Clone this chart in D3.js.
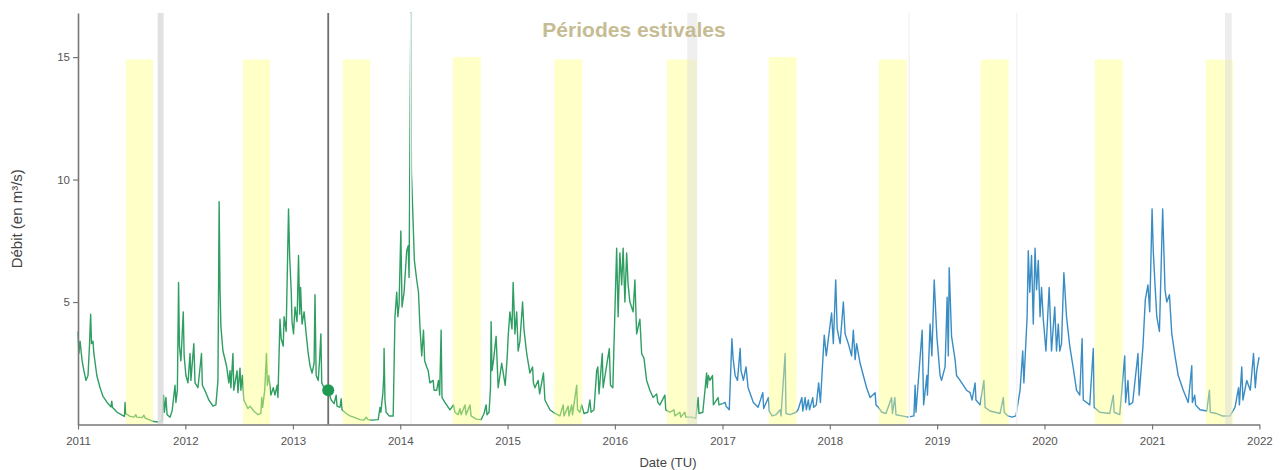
<!DOCTYPE html>
<html>
<head>
<meta charset="utf-8">
<script src="https://cdn.jsdelivr.net/npm/d3@7"></script>
<style>
  html, body { margin: 0; padding: 0; background: #fff; }
  svg { display: block; font-family: "Liberation Sans", Arial, sans-serif; }
</style>
</head>
<body>
<svg id="chart" width="1280" height="470"></svg>
<script>
// ---- Data (daily discharge, m3/s), points as [month-day, value] per year ----
const flow2011 = [["01-01",3.8],["01-04",2.9],["01-08",3.4],["01-15",2.6],["01-21",2.2],["01-28",1.8],["02-04",2.0],["02-09",3.2],["02-13",4.5],["02-16",3.3],["02-21",3.4],["02-24",2.9],["03-06",2.0],["03-17",1.5],["03-27",1.15],["04-10",0.9],["04-23",0.72],["04-26",0.95],["04-28",0.7],["05-14",0.5],["05-31",0.38],["06-08",0.33],["06-10",0.9],["06-12",0.45],["06-27",0.33],["07-10",0.3],["07-17",0.4],["07-20",0.3],["08-07",0.28],["08-13",0.38],["08-17",0.27],["09-03",0.18],["09-16",0.12],["09-30",0.1],["10-14",0.15],["10-19",1.2],["10-22",0.5],["10-27",1.1],["10-31",0.4],["11-10",0.3],["11-17",0.55],["11-27",1.6],["11-30",0.9],["12-05",1.4],["12-09",5.8],["12-12",3.2],["12-17",2.6],["12-25",4.6],["12-28",2.8]];
const flow2012 = [["01-03",2.0],["01-10",1.7],["01-17",2.9],["01-20",1.8],["01-30",3.3],["02-03",1.7],["02-13",1.5],["02-25",2.9],["02-28",1.6],["03-11",1.3],["03-21",1.0],["04-04",0.75],["04-14",0.8],["04-21",1.8],["04-25",9.1],["04-28",5.5],["05-01",4.0],["05-08",3.0],["05-20",2.4],["05-28",1.7],["06-01",2.2],["06-04",1.5],["06-11",2.9],["06-14",1.4],["06-25",2.2],["06-28",1.3],["07-05",2.3],["07-08",1.4],["07-13",2.0],["07-18",1.0],["08-01",0.65],["08-08",0.75],["08-21",0.55],["09-04",0.4],["09-14",0.45],["09-17",1.1],["09-20",0.7],["09-27",1.4],["10-03",2.9],["10-06",1.6],["10-11",2.0],["10-18",1.2],["10-26",1.5],["11-01",1.2],["11-08",1.6],["11-11",1.1],["11-18",4.3],["11-22",3.5],["11-29",3.2],["12-02",4.4],["12-09",3.8],["12-17",8.8],["12-21",6.8],["12-26",5.5],["12-29",4.2]];
const flow2013 = [["01-03",3.7],["01-08",4.8],["01-15",4.2],["01-20",6.9],["01-24",4.5],["01-27",5.6],["02-01",4.1],["02-08",4.6],["02-15",3.7],["02-22",2.9],["02-28",2.4],["03-07",2.1],["03-14",2.5],["03-17",5.3],["03-21",2.0],["03-28",1.8],["04-02",2.7],["04-06",3.7],["04-09",1.7],["04-17",1.5],["05-01",1.4],["05-11",1.0],["05-21",0.85],["05-28",1.2],["05-31",0.75],["06-10",0.7],["06-14",1.05],["06-17",0.6],["07-01",0.45],["07-14",0.35],["07-31",0.28],["08-17",0.2],["08-31",0.18],["09-07",0.3],["09-13",0.2],["09-27",0.18],["10-18",0.2],["10-24",0.7],["10-27",0.5],["11-03",1.3],["11-06",2.0],["11-07",3.1],["11-10",1.0],["11-14",0.5],["11-24",0.35],["12-08",0.35],["12-14",4.4],["12-20",5.4],["12-24",4.4],["12-28",4.9]];
const flow2014 = [["01-03",7.9],["01-07",4.8],["01-14",5.4],["01-23",7.1],["01-28",7.3],["01-31",6.0],["02-06",16.8],["02-08",10.3],["02-12",8.9],["02-18",6.7],["02-26",5.9],["03-04",5.4],["03-09",4.0],["03-15",2.8],["03-21",3.85],["03-25",2.6],["04-01",2.35],["04-06",2.2],["04-12",1.7],["04-23",1.8],["04-26",1.4],["05-05",1.4],["05-11",1.8],["05-15",1.2],["05-20",3.85],["05-23",1.1],["06-02",0.9],["06-19",0.6],["07-01",0.8],["07-06",0.5],["07-17",0.4],["07-23",0.65],["07-27",0.4],["08-09",0.8],["08-13",0.4],["08-26",0.8],["08-30",0.35],["09-16",0.22],["10-03",0.2],["10-13",0.45],["10-20",0.8],["10-23",0.4],["10-30",0.5],["11-04",1.5],["11-06",4.2],["11-09",2.2],["11-14",2.6],["11-23",3.6],["11-30",1.5],["12-12",2.5],["12-24",1.6],["12-31",2.8]];
const flow2015 = [["01-03",3.6],["01-09",4.6],["01-16",3.9],["01-20",5.8],["01-26",3.7],["02-01",4.6],["02-06",3.0],["02-12",3.4],["02-21",5.0],["02-26",3.85],["03-07",2.9],["03-18",2.1],["03-27",2.35],["03-30",1.7],["04-04",1.5],["04-15",1.8],["04-20",1.25],["05-03",2.1],["05-08",1.0],["05-25",0.6],["06-11",0.45],["06-28",0.35],["07-09",0.8],["07-12",0.35],["07-26",0.75],["07-29",0.35],["08-07",0.8],["08-10",0.4],["08-24",1.6],["08-27",0.6],["09-04",0.5],["09-10",0.8],["09-18",0.45],["10-01",0.5],["10-08",1.0],["10-12",0.5],["10-22",0.6],["10-31",2.2],["11-04",2.35],["11-08",1.25],["11-19",2.9],["11-22",1.5],["12-13",3.1],["12-17",1.6],["12-25",1.5]];
const flow2016 = [["01-01",4.6],["01-07",7.2],["01-12",4.4],["01-18",7.0],["01-24",5.7],["01-29",7.2],["02-04",5.0],["02-10",7.0],["02-15",5.7],["02-21",5.0],["03-03",4.6],["03-09",5.9],["03-15",3.7],["03-26",4.3],["04-01",2.9],["04-09",2.7],["04-18",1.8],["04-29",1.4],["05-10",1.1],["05-22",1.25],["05-26",0.9],["06-02",0.8],["06-19",1.2],["06-22",0.6],["07-06",0.5],["07-20",0.6],["07-23",0.35],["08-09",0.5],["08-12",0.3],["08-26",0.5],["08-29",0.3],["09-19",0.3],["10-02",0.25],["10-10",1.1],["10-13",0.45],["10-26",0.5],["11-08",2.1],["11-10",1.5],["11-14",2.0],["11-19",1.8],["11-28",2.0],["12-01",0.8],["12-17",1.1],["12-20",0.8],["12-31",0.85]];
const flow2017 = [["01-01",0.85],["01-10",0.9],["01-13",0.75],["01-24",0.6],["02-02",3.5],["02-06",2.7],["02-13",2.0],["02-21",1.8],["03-02",3.1],["03-05",2.2],["03-13",1.8],["03-22",2.35],["03-29",1.5],["04-16",0.9],["05-02",0.7],["05-18",1.3],["05-21",0.65],["06-06",1.1],["06-09",0.55],["06-19",0.35],["07-02",0.4],["07-16",0.6],["07-19",0.35],["08-02",2.9],["08-05",0.45],["08-19",0.4],["09-08",0.5],["09-15",0.6],["09-28",1.1],["10-01",0.55],["10-09",1.1],["10-13",0.6],["10-20",1.0],["10-24",0.6],["11-04",1.1],["11-07",0.7],["11-16",0.8],["11-24",1.7],["11-30",0.9],["12-13",3.65],["12-20",2.8],["12-28",3.6]];
const flow2018 = [["01-07",4.55],["01-13",3.3],["01-21",5.9],["01-26",3.9],["02-05",3.3],["02-16",5.0],["02-22",3.7],["03-05",3.3],["03-16",2.8],["03-22",3.85],["03-28",2.65],["04-02",3.3],["04-14",2.5],["04-25",2.0],["05-06",1.5],["05-18",1.1],["06-04",1.3],["06-07",0.8],["06-15",0.7],["06-27",0.5],["07-11",0.45],["07-30",1.1],["08-02",0.45],["08-10",1.1],["08-14",0.4],["09-03",0.35],["09-24",0.3],["10-14",0.35],["10-18",1.6],["10-21",0.5],["11-11",3.85],["11-16",0.8],["11-27",2.0],["11-29",1.2],["12-08",4.1],["12-14",2.8],["12-22",5.9],["12-31",3.6]];
const flow2019 = [["01-11",2.0],["01-16",1.8],["01-28",2.35],["02-04",5.2],["02-08",2.8],["02-11",6.4],["02-19",3.6],["03-03",2.65],["03-08",2.0],["03-20",1.8],["04-11",1.4],["04-23",1.3],["04-30",1.0],["05-10",1.7],["05-13",1.0],["05-27",0.8],["06-09",1.8],["06-13",0.7],["06-30",0.55],["07-17",0.5],["08-03",0.45],["08-14",1.1],["08-17",0.5],["08-30",0.35],["09-13",0.3],["09-26",0.35],["10-10",1.4],["10-19",3.0],["10-23",1.7],["11-03",4.4],["11-07",7.1],["11-12",5.4],["11-18",6.9],["11-24",4.1],["11-30",7.2],["12-05",5.5],["12-11",6.7],["12-17",4.4],["12-22",5.6],["12-28",4.3]];
const flow2020 = [["01-06",3.0],["01-17",5.6],["01-25",3.0],["02-05",4.8],["02-11",3.0],["02-17",4.1],["02-22",3.0],["02-28",3.3],["03-07",6.2],["03-16",4.4],["03-27",3.2],["04-08",2.3],["04-19",1.4],["04-30",1.2],["05-08",3.5],["05-12",1.0],["06-03",0.8],["06-15",3.1],["06-18",0.7],["07-07",0.5],["08-10",0.45],["08-22",1.2],["08-25",0.5],["09-13",0.4],["09-30",2.8],["10-03",0.9],["10-11",1.8],["10-15",0.8],["10-27",0.9],["11-14",2.9],["11-18",1.2],["12-01",3.2],["12-09",5.1],["12-18",5.7],["12-24",4.6]];
const flow2021 = [["01-01",8.8],["01-05",7.1],["01-11",5.7],["01-17",4.4],["01-26",3.8],["02-06",8.8],["02-14",5.5],["02-20",5.0],["03-01",5.3],["03-09",3.7],["03-20",2.8],["03-31",2.0],["04-17",1.4],["05-04",0.9],["05-16",2.4],["05-18",0.9],["05-26",1.2],["05-29",0.8],["06-13",0.6],["07-06",0.55],["07-15",1.4],["07-18",0.5],["08-07",0.45],["08-27",0.35],["09-23",0.35],["10-10",0.7],["10-22",1.5],["10-25",0.8],["11-02",2.35],["11-06",1.0],["11-19",1.8],["12-01",1.4],["12-12",2.9],["12-18",1.5],["12-23",2.2],["12-31",2.75]];

// Which years belong to which series (green: earlier station data, blue: later)
const greenYears = [[2011, flow2011],[2012, flow2012],[2013, flow2013],[2014, flow2014],[2015, flow2015],[2016, flow2016]];
const blueYears  = [[2017, flow2017],[2018, flow2018],[2019, flow2019],[2020, flow2020],[2021, flow2021]];

// Summer periods (yellow bands)
const summerStarts = ["2011-06-13","2012-07-15","2013-06-20","2014-06-29","2015-06-09","2016-06-26","2017-06-07","2018-06-17","2019-05-29","2020-06-20","2021-07-03"];
const summerEnds   = ["2011-09-13","2012-10-15","2013-09-20","2014-10-02","2015-09-12","2016-10-06","2017-09-10","2018-09-20","2019-09-01","2020-09-23","2021-10-03"];
const summerTops   = [14.9, 14.9, 14.9, 15.0, 14.9, 14.9, 15.0, 14.9, 14.9, 14.9, 14.9];

// Grey gap markers
const gapStarts = ["2011-09-29","2016-09-03","2021-09-06"];
const gapEnds   = ["2011-10-19","2016-10-07","2021-09-29"];
const gapOpacity = [0.85, 0.45, 0.5];
const faintLines = ["2014-02-06","2018-09-28","2019-09-29"];

// Cursor
const cursorDate = "2013-05-01";
const cursorValue = 1.4;

const yTicks = [5, 10, 15];
const yMax = 16.8;
const title = "Périodes estivales";
const yLabel = "Débit (en m³/s)";
const xLabel = "Date (TU)";

// ---- Chart ----
const W = 1280, H = 470;
const margin = {top: 13, right: 20.6, bottom: 45.5, left: 78};
const svg = d3.select("#chart");
const parse = d3.timeParse("%Y-%m-%d");

const toPts = (list) => list.flatMap(([yr, arr]) => arr.map(([md, v]) => ({date: parse(yr + "-" + md), value: v})));
const greenData = toPts(greenYears).concat([toPts(blueYears)[0]]);
const blueData = toPts(blueYears);

const x = d3.scaleTime()
  .domain([parse("2011-01-01"), parse("2022-01-01")])
  .range([margin.left, W - margin.right]);
const y = d3.scaleLinear()
  .domain([0, yMax])
  .range([H - margin.bottom, margin.top]);

const line = d3.line().x(d => x(d.date)).y(d => y(d.value));

// lines
svg.append("path").datum(greenData)
  .attr("fill", "none").attr("stroke", "#2f9e62").attr("stroke-width", 1.4)
  .attr("stroke-linejoin", "round").attr("d", line);
svg.append("path").datum(blueData)
  .attr("fill", "none").attr("stroke", "#3a8dc4").attr("stroke-width", 1.4)
  .attr("stroke-linejoin", "round").attr("d", line);

// summer bands (semi-transparent, drawn over the line)
svg.append("g").selectAll("rect")
  .data(summerStarts.map((s, i) => ({s: parse(s), e: parse(summerEnds[i]), top: summerTops[i]})))
  .join("rect")
  .attr("x", d => x(d.s))
  .attr("width", d => x(d.e) - x(d.s))
  .attr("y", d => y(d.top))
  .attr("height", d => y(0) - y(d.top))
  .attr("fill", "#ffff80")
  .attr("opacity", 0.43);

// faint lines
svg.append("g").selectAll("line")
  .data(faintLines.map(parse))
  .join("line")
  .attr("x1", d => x(d)).attr("x2", d => x(d))
  .attr("y1", y(yMax)).attr("y2", y(0))
  .attr("stroke", "#f4f4f4").attr("stroke-width", 1.5);

// grey gap bands
svg.append("g").selectAll("rect")
  .data(gapStarts.map((s, i) => ({s: parse(s), e: parse(gapEnds[i]), o: gapOpacity[i]})))
  .join("rect")
  .attr("x", d => x(d.s))
  .attr("width", d => x(d.e) - x(d.s))
  .attr("y", y(yMax))
  .attr("height", y(0) - y(yMax))
  .attr("fill", "#dcdcdc")
  .attr("opacity", d => d.o);

// axes
const xAxis = svg.append("g")
  .attr("transform", `translate(0,${y(0)})`)
  .call(d3.axisBottom(x).ticks(d3.timeYear.every(1)).tickFormat(d3.timeFormat("%Y")).tickSize(5).tickSizeOuter(0));
const yAxis = svg.append("g")
  .attr("transform", `translate(${margin.left},0)`)
  .call(d3.axisLeft(y).tickValues(yTicks).tickSize(5).tickSizeOuter(0));
[xAxis, yAxis].forEach(g => {
  g.select(".domain").attr("stroke", "#777").attr("stroke-width", 1.6);
  g.selectAll(".tick line").attr("stroke", "#777").attr("stroke-width", 1.2);
  g.selectAll(".tick text").attr("fill", "#555").style("font-size", "11.5px");
});
xAxis.selectAll(".tick text").attr("dy", "1.1em");

// cursor line and marker
svg.append("line")
  .attr("x1", x(parse(cursorDate))).attr("x2", x(parse(cursorDate)))
  .attr("y1", y(yMax)).attr("y2", y(0))
  .attr("stroke", "#6e6e6e").attr("stroke-width", 1.8);
svg.append("circle")
  .attr("cx", x(parse(cursorDate))).attr("cy", y(cursorValue))
  .attr("r", 6).attr("fill", "#1f9a52");

// labels
svg.append("text")
  .attr("transform", `translate(22,${(y(0) + y(yMax)) / 2}) rotate(-90)`)
  .attr("text-anchor", "middle").attr("fill", "#444").style("font-size", "15px")
  .text(yLabel);
svg.append("text")
  .attr("x", 668).attr("y", 467)
  .attr("text-anchor", "middle").attr("fill", "#444").style("font-size", "13px")
  .text(xLabel);
svg.append("text")
  .attr("x", 634).attr("y", 37)
  .attr("text-anchor", "middle").attr("fill", "#c6bc94")
  .style("font-size", "21px").style("font-weight", "bold")
  .text(title);
</script>
</body>
</html>
